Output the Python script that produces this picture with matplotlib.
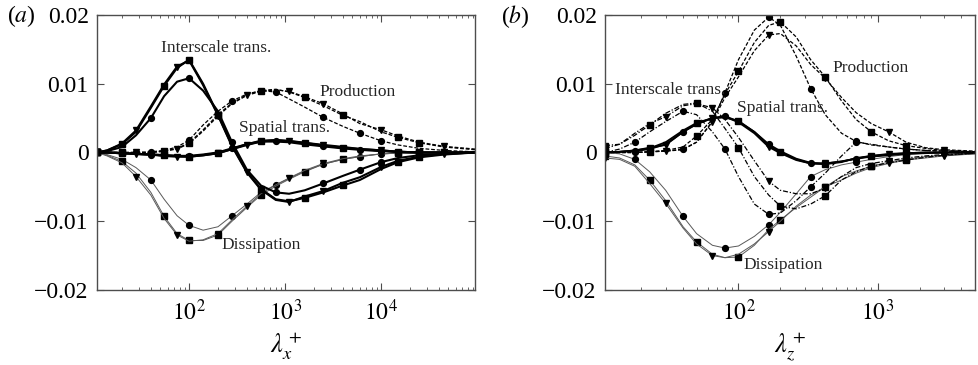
import numpy as np
import matplotlib
matplotlib.use("Agg")
import matplotlib.pyplot as plt
from matplotlib.ticker import LogLocator, NullFormatter

plt.rcParams['font.family'] = ['Liberation Serif', 'DejaVu Serif']
plt.rcParams['mathtext.fontset'] = 'stix'

# ---- panel (a): streamwise wavelength ----
lx = [11, 14, 20, 28, 40, 55, 75, 100, 140, 200, 280, 400, 560, 800, 1100,
      1600, 2500, 4000, 6000, 10000, 15000, 25000, 45000, 95000]

prod_a_c = [0, 0, 0, 0, 0.0001, 0.0003, 0.0008, 0.0018, 0.0040, 0.0060, 0.0075, 0.0085,
            0.0090, 0.0088, 0.0078, 0.0066, 0.0051, 0.0038, 0.0028, 0.0017, 0.0011, 0.0006, 0.0003, 0.0001]
prod_a_s = [0, 0, 0, 0, 0, 0.0002, 0.0006, 0.0014, 0.0033, 0.0055, 0.0072, 0.0084,
            0.0090, 0.0092, 0.0088, 0.0080, 0.0068, 0.0054, 0.0045, 0.0030, 0.0022, 0.0014, 0.0008, 0.0004]
prod_a_t = [0, 0, 0, 0, 0, 0.0002, 0.0005, 0.0013, 0.0031, 0.0053, 0.0071, 0.0083,
            0.0089, 0.0091, 0.0089, 0.0081, 0.0071, 0.0056, 0.0042, 0.0033, 0.0024, 0.0015, 0.0009, 0.0005]

diss_a_c = [0, -0.0003, -0.0010, -0.0022, -0.0040, -0.0068, -0.0092, -0.0106, -0.0113, -0.0108, -0.0092, -0.0075,
            -0.0058, -0.0047, -0.0038, -0.0027, -0.0017, -0.0010, -0.0006, -0.0002, -0.0001, 0, 0, 0]
diss_a_s = [0, -0.0004, -0.0013, -0.0030, -0.0058, -0.0093, -0.0118, -0.0128, -0.0128, -0.0120, -0.0100, -0.0080,
            -0.0062, -0.0049, -0.0039, -0.0028, -0.0017, -0.0010, -0.0006, -0.0002, -0.0001, 0, 0, 0]
diss_a_t = [0, -0.0005, -0.0015, -0.0035, -0.0062, -0.0096, -0.0120, -0.0129, -0.0127, -0.0118, -0.0098, -0.0078,
            -0.0060, -0.0047, -0.0037, -0.0026, -0.0016, -0.0009, -0.0005, -0.0002, -0.0001, 0, 0, 0]

inter_a_c = [0, 0.0002, 0.0008, 0.0025, 0.0050, 0.0082, 0.0103, 0.0108, 0.0090, 0.0060, 0.0015, -0.0025,
             -0.0048, -0.0058, -0.0060, -0.0055, -0.0045, -0.0034, -0.0025, -0.0014, -0.0008, -0.0004, -0.0002, 0]
inter_a_s = [0, 0.0003, 0.0012, 0.0030, 0.0065, 0.0097, 0.0123, 0.0135, 0.0100, 0.0055, 0.0010, -0.0028,
             -0.0053, -0.0068, -0.0071, -0.0066, -0.0058, -0.0048, -0.0040, -0.0024, -0.0014, -0.0007, -0.0003, 0]
inter_a_t = [0, 0.0003, 0.0013, 0.0032, 0.0067, 0.0099, 0.0125, 0.0134, 0.0098, 0.0054, 0.0009, -0.0029,
             -0.0054, -0.0069, -0.0072, -0.0064, -0.0056, -0.0044, -0.0036, -0.0021, -0.0012, -0.0006, -0.0002, 0]

spat_a_c = [0, 0, -0.0001, -0.0002, -0.0003, -0.0004, -0.0005, -0.0005, -0.0003, 0, 0.0006, 0.0012,
            0.0016, 0.0016, 0.0015, 0.0012, 0.0009, 0.0006, 0.0004, 0.0002, 0.0001, 0, 0, 0]
spat_a_s = [0, 0, -0.0001, -0.0002, -0.0003, -0.0004, -0.0005, -0.0006, -0.0004, -0.0001, 0.0005, 0.0012,
            0.0017, 0.0018, 0.0016, 0.0014, 0.0010, 0.0007, 0.0005, 0.0003, 0.0001, 0, 0, 0]
spat_a_t = [0, 0, -0.0001, -0.0002, -0.0003, -0.0005, -0.0006, -0.0006, -0.0004, -0.0001, 0.0005, 0.0011,
            0.0016, 0.0018, 0.0017, 0.0014, 0.0011, 0.0008, 0.0005, 0.0003, 0.0001, 0, 0, 0]

# ---- panel (b): spanwise wavelength ----
lz = [11, 14, 18, 23, 30, 40, 50, 65, 80, 100, 130, 165, 200, 260, 330, 420, 550,
      700, 900, 1200, 1600, 2200, 3000, 5000]

prod_b_c = [0, 0, 0, 0.0001, 0.0002, 0.0005, 0.0015, 0.0045, 0.0087, 0.0135, 0.0178, 0.0197,
            0.0185, 0.0140, 0.0093, 0.0055, 0.0028, 0.0016, 0.0011, 0.0008, 0.0005, 0.0003, 0.0002, 0.0001]
prod_b_s = [0, 0, 0, 0.0001, 0.0003, 0.0008, 0.0024, 0.0048, 0.0085, 0.0118, 0.0160, 0.0185,
            0.0190, 0.0168, 0.0135, 0.0110, 0.0075, 0.0048, 0.0030, 0.0017, 0.0010, 0.0006, 0.0003, 0.0001]
prod_b_t = [0, 0, 0, 0.0001, 0.0002, 0.0004, 0.0015, 0.0045, 0.0080, 0.0110, 0.0148, 0.0171,
            0.0173, 0.0155, 0.0128, 0.0108, 0.0080, 0.0058, 0.0042, 0.0030, 0.0015, 0.0007, 0.0004, 0.0002]

diss_b_c = [0, -0.0002, -0.0010, -0.0028, -0.0055, -0.0093, -0.0118, -0.0135, -0.0139, -0.0136, -0.0122, -0.0105,
            -0.0087, -0.0060, -0.0035, -0.0025, -0.0018, -0.0014, -0.0010, -0.0006, -0.0003, -0.0001, 0, 0]
diss_b_s = [-0.0005, -0.0008, -0.0018, -0.0040, -0.0070, -0.0108, -0.0130, -0.0148, -0.0153, -0.0152, -0.0135, -0.0112,
            -0.0098, -0.0080, -0.0065, -0.0050, -0.0035, -0.0027, -0.0020, -0.0014, -0.0010, -0.0006, -0.0004, -0.0002]
diss_b_t = [-0.0008, -0.0010, -0.0020, -0.0045, -0.0074, -0.0110, -0.0133, -0.0150, -0.0153, -0.0148, -0.0133, -0.0115,
            -0.0100, -0.0078, -0.0062, -0.0050, -0.0040, -0.0030, -0.0022, -0.0016, -0.0011, -0.0008, -0.0005, -0.0002]

inter_b_c = [0, 0.0005, 0.0015, 0.0030, 0.0045, 0.0060, 0.0055, 0.0030, 0.0005, -0.0035, -0.0075, -0.0090,
             -0.0088, -0.0070, -0.0050, -0.0030, -0.0005, 0.0015, 0.0012, 0.0008, 0.0005, 0.0003, 0.0002, 0.0001]
inter_b_s = [0.0010, 0.0012, 0.0025, 0.0040, 0.0057, 0.0070, 0.0072, 0.0060, 0.0035, 0.0007, -0.0035, -0.0062,
             -0.0078, -0.0082, -0.0075, -0.0063, -0.0040, -0.0028, -0.0020, -0.0015, -0.0011, -0.0007, -0.0004, -0.0001]
inter_b_t = [0.0006, 0.0012, 0.0028, 0.0042, 0.0052, 0.0068, 0.0071, 0.0065, 0.0048, 0.0022, -0.0012, -0.0042,
             -0.0055, -0.0060, -0.0060, -0.0052, -0.0035, -0.0022, -0.0016, -0.0012, -0.0008, -0.0005, -0.0003, -0.0001]

spat_b_c = [0, 0.0001, 0.0002, 0.0005, 0.0012, 0.0030, 0.0041, 0.0050, 0.0053, 0.0045, 0.0030, 0.0012,
            0.0002, -0.0009, -0.0015, -0.0016, -0.0013, -0.0009, -0.0006, -0.0004, -0.0002, -0.0001, 0, 0]
spat_b_s = [0, 0.0001, 0.0003, 0.0006, 0.0015, 0.0032, 0.0043, 0.0050, 0.0051, 0.0046, 0.0030, 0.0010,
            0.0000, -0.0010, -0.0016, -0.0017, -0.0014, -0.0008, -0.0005, -0.0003, -0.0001, 0, 0, 0]
spat_b_t = [0, 0.0001, 0.0003, 0.0007, 0.0011, 0.0030, 0.0042, 0.0050, 0.0052, 0.0044, 0.0028, 0.0008,
            -0.0001, -0.0011, -0.0016, -0.0016, -0.0013, -0.0009, -0.0005, -0.0002, -0.0001, 0, 0, 0]

yticks = [-0.02, -0.01, 0, 0.01, 0.02]
ylabels = ['\u22120.02', '\u22120.01', '0', '0.01', '0.02']

marks = ['o', 's', 'v']
every_a = [[0, 4, 7, 10, 13, 16, 18, 19],
           [0, 2, 5, 7, 9, 12, 15, 17, 20, 21],
           [0, 3, 6, 9, 11, 14, 16, 19, 22]]
every_b = [[0, 2, 5, 8, 11, 14, 17, 20],
           [0, 3, 6, 9, 12, 15, 18, 20],
           [0, 4, 7, 11, 15, 19, 22]]

fig = plt.figure(figsize=(9.79, 3.65), dpi=100)
ax = fig.add_axes([0.0991, 0.2055, 0.3861, 0.7534])
bx = fig.add_axes([0.6180, 0.2055, 0.3779, 0.7534])


def draw_group(a, x, ys, every, ls, lw, col):
    for k in range(3):
        a.plot(x, ys[k], ls=ls, lw=lw, color=col, marker=marks[k], ms=4.2,
               mfc='k', mec='k', markevery=every[k])


# panel (a)
draw_group(ax, lx, [diss_a_c, diss_a_s, diss_a_t], every_a, '-', 0.7, '0.35')
draw_group(ax, lx, [prod_a_c, prod_a_s, prod_a_t], every_a, (0, (3, 1.5)), 0.9, 'k')
draw_group(ax, lx, [inter_a_c, inter_a_s, inter_a_t], every_a, '-', 1.5, 'k')
draw_group(ax, lx, [spat_a_c, spat_a_s, spat_a_t], every_a, '-', 1.6, 'k')

# panel (b)
draw_group(bx, lz, [diss_b_c, diss_b_s, diss_b_t], every_b, '-', 0.7, '0.35')
draw_group(bx, lz, [prod_b_c, prod_b_s, prod_b_t], every_b, (0, (3, 1.5)), 0.9, 'k')
draw_group(bx, lz, [inter_b_c, inter_b_s, inter_b_t], every_b, (0, (4, 1.5, 1, 1.5)), 0.9, 'k')
draw_group(bx, lz, [spat_b_c, spat_b_s, spat_b_t], every_b, '-', 1.3, 'k')

for a, xl in [(ax, (11, 9.5e4)), (bx, (11, 5000))]:
    a.set_xscale('log')
    a.set_xlim(xl)
    a.set_ylim(-0.02, 0.02)
    a.set_yticks(yticks)
    a.set_yticklabels(ylabels)
    a.xaxis.set_major_locator(LogLocator(base=10, numticks=10))
    a.xaxis.set_minor_locator(LogLocator(base=10, subs=np.arange(2, 10), numticks=20))
    a.xaxis.set_minor_formatter(NullFormatter())
    a.tick_params(which='both', direction='in', top=True, right=True, labelsize=17)
    a.tick_params(which='major', length=5, width=0.8, color='0.3')
    a.tick_params(which='minor', length=2.5, width=0.6, color='0.3')
    a.tick_params(axis='x', which='major', pad=7)
    a.tick_params(axis='y', which='major', pad=6)
    for s in a.spines.values():
        s.set_linewidth(1.0)
        s.set_color('0.3')

ax.set_xticks([100, 1000, 10000])
ax.set_xticklabels(['$10^2$', '$10^3$', '$10^4$'])
bx.set_xticks([100, 1000])
bx.set_xticklabels(['$10^2$', '$10^3$'])

ax.set_xlabel('$\\lambda_x^+$', fontsize=19, labelpad=4)
bx.set_xlabel('$\\lambda_z^+$', fontsize=19, labelpad=4)

fig.text(0.007, 0.955, '($a$)', fontsize=17, va='center')
fig.text(0.512, 0.955, '($b$)', fontsize=17, va='center')

tk = dict(fontsize=12.5, color='0.15')
ax.text(190, 0.0152, 'Interscale trans.', ha='center', va='center', **tk)
ax.text(2300, 0.0088, 'Production', ha='left', va='center', **tk)
ax.text(330, 0.0036, 'Spatial trans.', ha='left', va='center', **tk)
ax.text(220, -0.0135, 'Dissipation', ha='left', va='center', **tk)

bx.text(13, 0.0091, 'Interscale trans.', ha='left', va='center', **tk)
bx.text(97, 0.0065, 'Spatial trans.', ha='left', va='center', **tk)
bx.text(470, 0.0123, 'Production', ha='left', va='center', **tk)
bx.text(109, -0.0164, 'Dissipation', ha='left', va='center', **tk)

fig.savefig('out.png', dpi=100)
